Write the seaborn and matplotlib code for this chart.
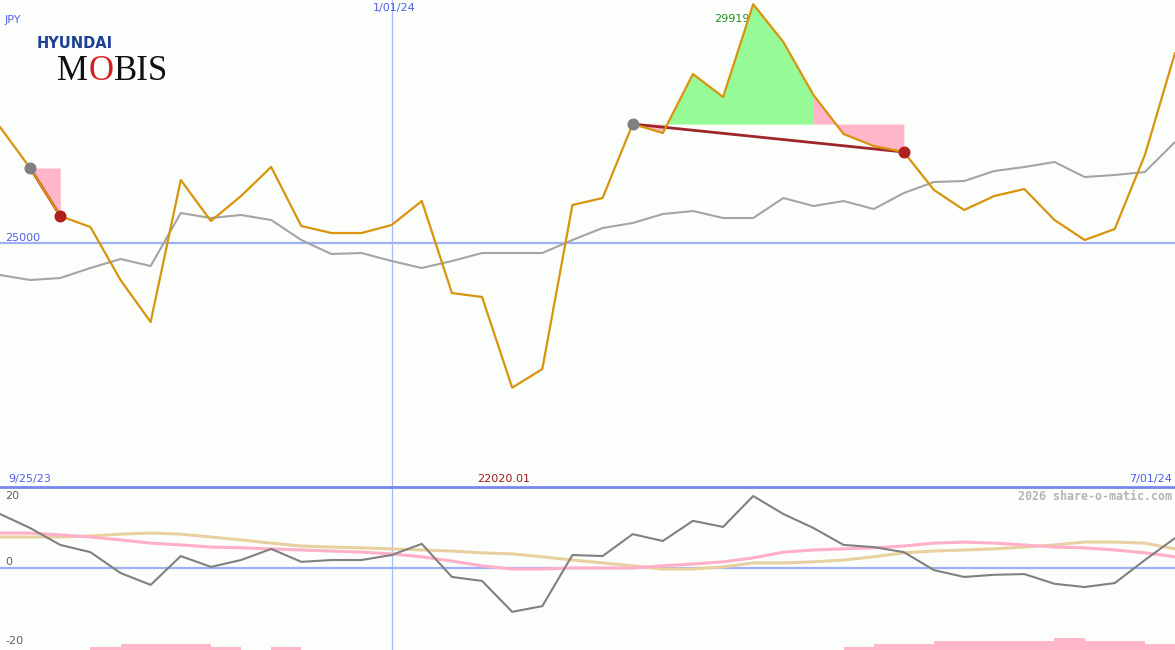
import numpy as np
import matplotlib
matplotlib.use('Agg')
import matplotlib.pyplot as plt
import seaborn as sns

# weekly closes (JPY) and moving average
price = [27390, 26545, 25556, 25330, 24238, 23373, 26298, 25453, 25968, 26566,
         25350, 25206, 25206, 25371, 25865, 23970, 23888, 22020.01, 22404, 25783,
         25927, 27451, 27266, 28481, 28008, 29919, 29141, 28049, 27245, 26998,
         26875, 26092, 25680, 25968, 26112, 25474, 25062, 25288, 26813, 28914]
avg = [24341, 24238, 24279, 24485, 24670, 24526, 25618, 25515, 25577, 25474,
       25062, 24773, 24794, 24629, 24485, 24629, 24794, 24794, 24794, 25062,
       25309, 25412, 25597, 25659, 25515, 25515, 25927, 25762, 25865, 25700,
       26030, 26257, 26277, 26483, 26566, 26669, 26360, 26401, 26463, 27081]

# lower panel indicators
mom = [15.0, 11.1, 6.4, 4.4, -1.4, -4.7, 3.3, 0.3, 2.2, 5.3,
       1.7, 2.2, 2.2, 3.6, 6.7, -2.5, -3.6, -12.2, -10.6, 3.6,
       3.3, 9.4, 7.5, 13.1, 11.4, 20.0, 15.0, 11.1, 6.4, 5.8,
       4.4, -0.6, -2.5, -1.9, -1.7, -4.4, -5.3, -4.2, 2.2, 8.3]
sig_pink = [9.7, 9.7, 9.2, 8.6, 7.8, 6.9, 6.4, 5.8, 5.6, 5.3,
            5.0, 4.7, 4.4, 3.9, 3.1, 1.9, 0.6, -0.3, -0.3, 0.0,
            0.0, 0.0, 0.6, 1.1, 1.7, 2.8, 4.4, 5.0, 5.3, 5.6,
            6.1, 6.9, 7.2, 6.9, 6.4, 5.8, 5.6, 5.0, 4.2, 3.1]
sig_tan = [8.6, 8.6, 8.6, 8.9, 9.4, 9.7, 9.4, 8.6, 7.8, 6.9,
           6.1, 5.8, 5.6, 5.3, 5.0, 4.7, 4.2, 3.9, 3.1, 2.2,
           1.4, 0.6, -0.3, -0.3, 0.3, 1.4, 1.4, 1.7, 2.2, 3.1,
           4.2, 4.7, 5.0, 5.3, 5.8, 6.4, 7.2, 7.2, 6.9, 5.3]
# small bars at the bottom (one per week interval)
bars = [0, 0, 0, 1, 2, 2, 2, 1, 0, 1,
        0, 0, 0, 0, 0, 0, 0, 0, 0, 0,
        0, 0, 0, 0, 0, 0, 0, 0, 1, 2,
        2, 3, 3, 3, 3, 4, 3, 3, 2]

# highlighted swings: (start, end, green from, green to)
swings = [(1, 2, None, None), (21, 30, 22, 27)]

start_label = '9/25/23'
end_label = '7/01/24'
month_idx = 13
month_label = '1/01/24'
ref_level = 25000

x = np.arange(len(price))
bg = '#fcfefc'

sns.set_style('white')
fig = plt.figure(figsize=(11.75, 6.5), dpi=100, facecolor=bg)
ax = fig.add_axes([0, 163 / 650, 1, 487 / 650], facecolor=bg)
ax2 = fig.add_axes([0, 0, 1, 163 / 650], facecolor=bg)
axb = ax2.twinx()

for a in (ax, ax2, axb):
    for s in a.spines.values():
        s.set_visible(False)
    a.set_xticks([])
    a.set_yticks([])
    a.set_xlim(0, len(price) - 1)

ax.set_ylim(19974, 30006)
ax2.set_ylim(-22.8, 22.5)
axb.set_ylim(0, 163 / 3)

# reference lines
ax.axhline(ref_level, color='#a0b0f4', lw=1.6, zorder=1)
ax.axvline(month_idx, color='#a8b8ff', lw=0.9, zorder=1)
ax2.axvline(month_idx, color='#a8b8ff', lw=0.9, zorder=1)
ax2.axhline(0, color='#a0b0f4', lw=1.6, zorder=1)

# swing fills
p = np.array(price, dtype=float)
for s0, s1, g0, g1 in swings:
    lvl = p[s0]
    seg = (x >= s0) & (x <= s1)
    if g0 is None:
        ax.fill_between(x, p, lvl, where=seg, color='#ffb6c8', lw=0, zorder=2)
    else:
        ax.fill_between(x, p, lvl, where=(x >= s0) & (x <= g0), color='#ffb6c8', lw=0, zorder=2)
        ax.fill_between(x, p, lvl, where=(x >= g1) & (x <= s1), color='#ffb6c8', lw=0, zorder=2)
        ax.fill_between(x, p, lvl, where=(x >= g0) & (x <= g1), color='#96fa96', lw=0, zorder=2)
    ax.plot([s0, s1], [p[s0], p[s1]], color='#a0262a', lw=2, zorder=3)

sns.lineplot(x=x, y=avg, ax=ax, color='#a4a4a4', linewidth=1.5, zorder=3)
sns.lineplot(x=x, y=price, ax=ax, color='#d8940c', linewidth=1.6, zorder=4)

for s0, s1, g0, g1 in swings:
    ax.scatter([s0], [p[s0]], s=75, color='#808080', zorder=5, lw=0)
    ax.scatter([s1], [p[s1]], s=75, color='#b0201c', zorder=5, lw=0)
ax.set_xlabel('')
ax.set_ylabel('')

# lower panel
axb.bar(np.arange(len(bars)), bars, width=1, align='edge', color='#ffb6c8', lw=0, zorder=1)
sns.lineplot(x=x, y=sig_tan, ax=ax2, color='#e8d0a0', linewidth=2.2, zorder=2)
sns.lineplot(x=x, y=sig_pink, ax=ax2, color='#ffb0c8', linewidth=2.2, zorder=2)
sns.lineplot(x=x, y=mom, ax=ax2, color='#808080', linewidth=1.5, zorder=3)
ax2.set_xlim(0, len(price) - 1)
ax2.set_xlabel('')
ax2.set_ylabel('')
ax2.set_xticks([])
ax2.set_yticks([])

# separator
fig.add_artist(plt.Line2D([0, 1], [163 / 650, 163 / 650], color='#7888f0', lw=2))

# labels
def px(xp, yp):
    return xp / 1175, 1 - yp / 650

blue = '#5060e8'
fs = 8
fig.text(*px(5, 20), 'JPY', color=blue, fontsize=fs, va='center')
fig.text(*px(5, 238), str(ref_level), color=blue, fontsize=fs, va='center')
fig.text(*px(8, 479), start_label, color=blue, fontsize=fs, va='center')
fig.text(*px(1172, 479), end_label, color=blue, fontsize=fs, va='center', ha='right')
ax.annotate(month_label, (month_idx, 1), xycoords=('data', 'axes fraction'),
            xytext=(3, -8), textcoords='offset pixels', color=blue, fontsize=fs,
            ha='center', va='center')

imax = int(np.argmax(p))
imin = int(np.argmin(p))
ax.annotate(f'{p[imax]:.0f}', (imax, p[imax]), xytext=(-4, -15), textcoords='offset pixels',
            color='#228b22', fontsize=fs, ha='right', va='center')
ax.annotate(f'{p[imin]:.2f}', (imin, 0), xycoords=('data', 'axes fraction'),
            xytext=(-9, 8), textcoords='offset pixels',
            color='#a01818', fontsize=fs, ha='center', va='center')

fig.text(*px(5, 496), '20', color='#606060', fontsize=fs, va='center')
fig.text(*px(5, 562), '0', color='#606060', fontsize=fs, va='center')
fig.text(*px(5, 641), '-20', color='#606060', fontsize=fs, va='center')
fig.text(*px(1172, 496), '2026 share-o-matic.com', color='#b4b4b4', fontsize=8.4,
         family='DejaVu Sans Mono', weight='bold', ha='right', va='center')

# logo
fig.text(*px(37, 43), 'HYUNDAI', color='#1c3f94', fontsize=10.5, weight='bold',
         family='DejaVu Sans', va='center')
fig.text(*px(57, 80), 'M', color='#111111', fontsize=25, family='Liberation Serif', va='baseline')
fig.text(*px(89, 80), 'O', color='#d42020', fontsize=25, family='Liberation Serif', va='baseline')
fig.text(*px(114, 80), 'BIS', color='#111111', fontsize=25, family='Liberation Serif', va='baseline')

fig.savefig('out.png', dpi=100, facecolor=bg)
